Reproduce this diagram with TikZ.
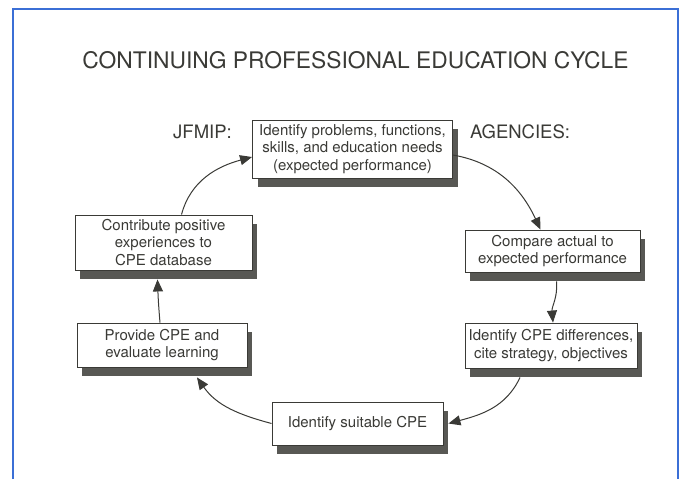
\documentclass[tikz,border=0pt]{standalone}
\usepackage{fontspec}
\setmainfont{TeX Gyre Heros}
\usetikzlibrary{arrows.meta,shadows}
\definecolor{ink}{HTML}{3A3A36}
\definecolor{frameblue}{HTML}{3B6FD6}
\begin{document}
\begin{tikzpicture}[
	x=1pt, y=-1pt,
	block/.style={
		rectangle, draw=ink, fill=white, line width=0.9pt,
		text=ink, align=center, inner sep=2pt,
		font=\fontsize{15}{17.5}\selectfont,
		drop shadow={shadow xshift=5pt, shadow yshift=-9pt, fill=ink!85, opacity=1}
	},
	side/.style={text=ink, font=\fontsize{18.5}{20}\selectfont},
	line/.style={draw=ink, line width=1pt, -{Triangle[length=12pt,width=10pt]}},
	]
	\useasboundingbox (0,0) rectangle (682,479);
	\draw [frameblue, line width=2.5pt] (13,479) -- (13,9) -- (678,9) -- (678,479);

	\node [text=ink, font=\fontsize{22.8}{26}\selectfont] (title) at (355.5,60)
		{CONTINUING PROFESSIONAL EDUCATION CYCLE};
	\node [side] (jfmip) at (202.5,132) {JFMIP:};
	\node [side] (agencies) at (520,132) {AGENCIES:};

	\node [block, minimum width=200pt, minimum height=58pt] (ident) at (352.5,149)
		{Identify problems, functions,\\ skills, and education needs\\ (expected performance)};
	\node [block, minimum width=175pt, minimum height=42pt] (compare) at (552.5,251)
		{Compare actual to\\ expected performance};
	\node [block, minimum width=172pt, minimum height=45pt] (diff) at (551,345.5)
		{Identify CPE differences,\\ cite strategy, objectives};
	\node [block, minimum width=171pt, minimum height=43pt] (suitable) at (357.5,423.5)
		{Identify suitable CPE};
	\node [block, minimum width=170pt, minimum height=44pt] (provide) at (162,345)
		{Provide CPE and\\ evaluate learning};
	\node [block, minimum width=177pt, minimum height=55pt] (contribute) at (163.5,242.5)
		{Contribute positive\\ experiences to\\ CPE database};

	\path [line] ([yshift=-6pt]ident.east) to[out=-10, in=115] ([xshift=-12pt]compare.north);
	\path [line] ([xshift=4pt,yshift=-9pt]compare.south) to[out=-85, in=95] ([xshift=2pt]diff.north);
	\path [line] ([xshift=-31pt,yshift=-9pt]diff.south) to[out=-115, in=15] ([xshift=5pt]suitable.east);
	\path [line] (suitable.west) to[out=165, in=-55] ([xshift=35pt,yshift=-10pt]provide.south);
	\path [line] ([xshift=-2pt]provide.north) to[out=95, in=-88] ([xshift=-6pt,yshift=-9pt]contribute.south);
	\path [line] ([xshift=18pt]contribute.north) to[out=75, in=-165] ([yshift=-8pt]ident.west);
\end{tikzpicture}
\end{document}
